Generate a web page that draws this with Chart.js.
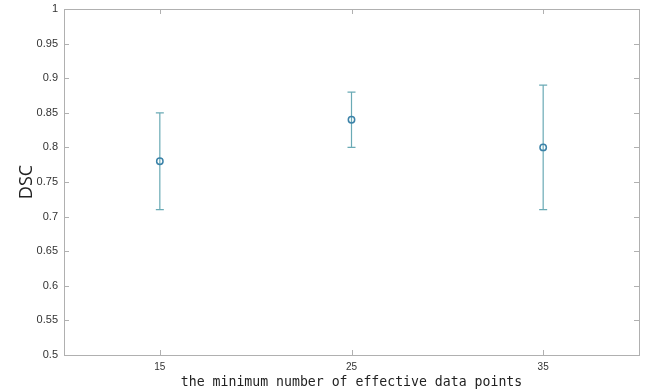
<!DOCTYPE html>
<html>
<head>
<meta charset="utf-8">
<script src="https://cdn.jsdelivr.net/npm/chart.js@4.4.1/dist/chart.umd.min.js"></script>
<style>
html,body{margin:0;padding:0;background:#fff;}
#wrap{width:650px;height:392px;}
</style>
</head>
<body>
<div id="wrap"><canvas id="c" width="650" height="392"></canvas></div>
<script>
const categories = [15, 25, 35];
const meanDSC = [0.78, 0.84, 0.80];
const lowDSC = [0.71, 0.80, 0.71];
const highDSC = [0.85, 0.88, 0.89];
const yTicks = [0.5, 0.55, 0.6, 0.65, 0.7, 0.75, 0.8, 0.85, 0.9, 0.95, 1];

const errorBarPlugin = {
  id: 'errorBars',
  beforeDatasetsDraw(chart) {
    const ctx = chart.ctx, xs = chart.scales.x, ys = chart.scales.y;
    ctx.save();
    ctx.strokeStyle = '#6aaab5';
    ctx.lineWidth = 1.2;
    categories.forEach((c, i) => {
      const px = xs.getPixelForValue(c);
      const pl = ys.getPixelForValue(lowDSC[i]);
      const ph = ys.getPixelForValue(highDSC[i]);
      ctx.beginPath();
      ctx.moveTo(px, pl); ctx.lineTo(px, ph);
      ctx.moveTo(px - 4, pl); ctx.lineTo(px + 4, pl);
      ctx.moveTo(px - 4, ph); ctx.lineTo(px + 4, ph);
      ctx.stroke();
    });
    ctx.restore();
  }
};

const boxPlugin = {
  id: 'boxTicks',
  afterDraw(chart) {
    const ctx = chart.ctx, a = chart.chartArea, xs = chart.scales.x, ys = chart.scales.y;
    ctx.save();
    ctx.strokeStyle = '#b0b0b0';
    ctx.lineWidth = 1;
    ctx.strokeRect(Math.round(a.left) + 0.5, Math.round(a.top) + 0.5, Math.round(a.right - a.left), Math.round(a.bottom - a.top));
    ctx.beginPath();
    const tl = 5;
    xs.ticks.forEach(t => {
      const px = Math.round(xs.getPixelForValue(t.value)) + 0.5;
      ctx.moveTo(px, a.bottom); ctx.lineTo(px, a.bottom - tl);
      ctx.moveTo(px, a.top); ctx.lineTo(px, a.top + tl);
    });
    ys.ticks.forEach(t => {
      const py = Math.round(ys.getPixelForValue(t.value)) + 0.5;
      ctx.moveTo(a.left, py); ctx.lineTo(a.left + tl, py);
      ctx.moveTo(a.right, py); ctx.lineTo(a.right - tl, py);
    });
    ctx.stroke();
    ctx.restore();
  }
};

new Chart(document.getElementById('c'), {
  type: 'scatter',
  data: {
    datasets: [{
      data: categories.map((c, i) => ({x: c, y: meanDSC[i]})),
      pointRadius: 3.2,
      pointBorderWidth: 1.5,
      pointBorderColor: '#3b82a8',
      pointBackgroundColor: 'rgba(0,0,0,0)',
      showLine: false
    }]
  },
  options: {
    responsive: false,
    animation: false,
    layout: {padding: {left: 0, right: 11, top: 9, bottom: 0}},
    plugins: {legend: {display: false}, tooltip: {enabled: false}},
    scales: {
      x: {
        type: 'linear', min: 10, max: 40,
        afterBuildTicks(s) { s.ticks = categories.map(v => ({value: v})); },
        afterFit(s) { s.height = 37; s.paddingLeft = 0; s.paddingRight = 0; },
        grid: {display: false, drawTicks: false},
        border: {display: false},
        ticks: {padding: 6, color: '#333', font: {family: 'Liberation Sans', size: 10}, maxRotation: 0,
          callback: v => String(v)},
        title: {display: true, text: 'the minimum number of effective data points',
          color: '#222', font: {family: 'DejaVu Sans Mono', size: 13.2}, padding: {top: 0, bottom: 2}}
      },
      y: {
        type: 'linear', min: 0.5, max: 1,
        afterBuildTicks(s) { s.ticks = yTicks.map(v => ({value: v})); },
        afterFit(s) { s.width = 64; s.paddingTop = 0; s.paddingBottom = 0; },
        grid: {display: false, drawTicks: false},
        border: {display: false},
        ticks: {padding: 6, color: '#333', font: {family: 'Liberation Sans', size: 11},
          callback: v => String(+v.toFixed(2))},
        title: {display: true, text: 'DSC', color: '#222',
          font: {family: 'Open Sans', size: 18}, padding: {top: 16, bottom: 0}}
      }
    }
  },
  plugins: [errorBarPlugin, boxPlugin]
});
</script>
</body>
</html>
